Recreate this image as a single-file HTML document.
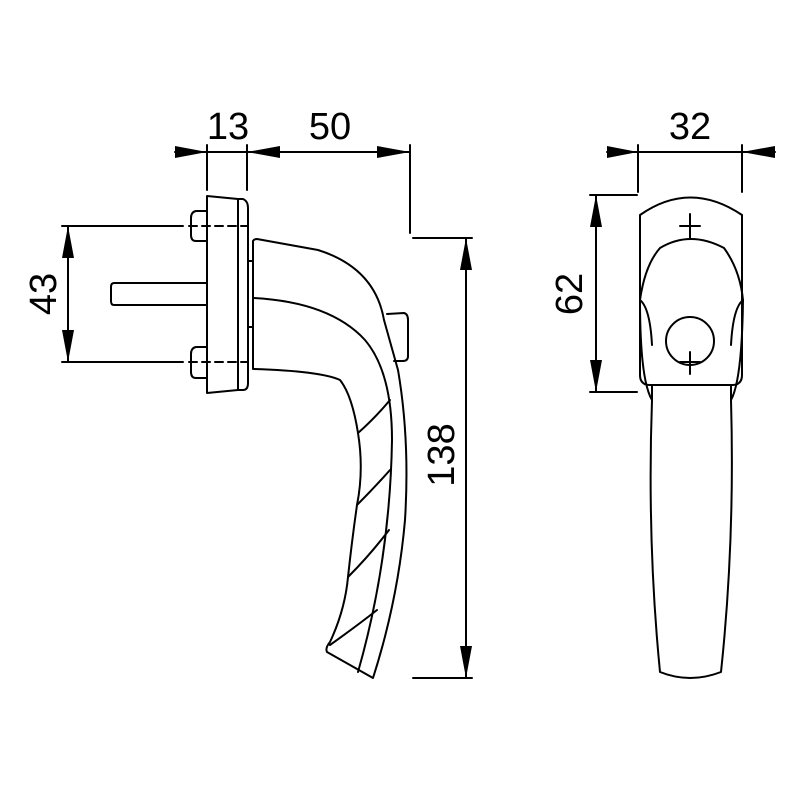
<!DOCTYPE html>
<html><head><style>body{margin:0;background:#fff}svg{display:block}</style></head><body>
<svg width="800" height="800" viewBox="0 0 800 800" xmlns="http://www.w3.org/2000/svg">
<g fill="none" stroke="#000" stroke-width="2" stroke-linejoin="round" stroke-linecap="round">
<line x1="175" y1="152" x2="410" y2="152"/>
<line x1="207" y1="145" x2="207" y2="190"/>
<line x1="247" y1="145" x2="247" y2="190"/>
<line x1="410" y1="145" x2="410" y2="233"/>
<line x1="607" y1="152" x2="775" y2="152"/>
<line x1="638" y1="145" x2="638" y2="192"/>
<line x1="742" y1="145" x2="742" y2="192"/>
<line x1="68" y1="226" x2="68" y2="362"/>
<line x1="62" y1="226" x2="183" y2="226"/>
<line x1="62" y1="362" x2="183" y2="362"/>
<line x1="466" y1="238" x2="466" y2="678"/>
<line x1="413" y1="238" x2="472" y2="238"/>
<line x1="413" y1="678" x2="472" y2="678"/>
<line x1="596" y1="195" x2="596" y2="392"/>
<line x1="590" y1="195" x2="637" y2="195"/>
<line x1="590" y1="392" x2="637" y2="392"/>
<path d="M207,196 L238,199 L238,390 L207,393 Z"/>
<path d="M238,199 L243,199 Q248,201 248,208 L248,383 Q248,390 243,390 L238,390"/>
<path d="M207,211 L196,211 Q191,212 191,218 L191,235 Q191,241 196,241 L207,241"/>
<path d="M207,347 L196,347 Q191,348 191,354 L191,372 Q191,378 196,378 L207,378"/>
<path d="M207,283 L114,283 Q111,283 111,287 L111,301 Q111,305 114,305 L207,305"/>
<line x1="248" y1="261" x2="253" y2="261"/><line x1="248" y1="327" x2="253" y2="327"/>
<path d="M189,226 L247,226 M189,362 L247,362" stroke-dasharray="8,5"/>
<path d="M253,369 L253,241 Q254,239 257,239 L318,250 Q375,268 384,320 L398,370 Q410,440 405,520 Q398,600 373,678 L327,652 Q325,648 330,642 Q345,610 348,577 Q352,540 357,505 Q364,470 358,433 Q352,395 340,380 Q320,371 253,369"/>
<path d="M253,298 Q330,302 365,340 Q392,372 392,440 Q390,560 358,672"/>
<path d="M387,314 L404,313 Q408,314 408,320 L408,356 Q408,361 403,361 L394,361"/>
<path d="M358,433 Q375,418 390,400 M357,505 Q375,487 390,470 M348,577 Q370,555 389,530 M330,645 Q358,625 377,610"/>
<path d="M640,215 Q690,180 742,215 L742,375 Q742,385 732,385 L650,385 Q640,385 640,375 Z"/>
<path d="M652,385 L652,400 Q647,540 660,672 Q690,684 721,672 Q735,540 731,400 L731,385"/>
<path d="M652,400 Q640,380 640,300 Q645,265 660,248 Q690,230 724,248 Q740,270 743,300 Q742,380 731,400"/>
<path d="M640,300 Q650,308 652,345 M743,300 Q733,308 731,345"/>
<circle cx="690" cy="341" r="24"/>
<path d="M680,226 L700,226 M690,214 L690,238 M680,362 L700,362 M690,352 L690,374"/>
</g>
<g fill="#000">
<polygon points="175,146 207,152 175,158"/>
<polygon points="280,146 247,152 280,158"/>
<polygon points="377,146 410,152 377,158"/>
<polygon points="607,146 638,152 607,158"/>
<polygon points="775,146 742,152 775,158"/>
<polygon points="62,258 68,226 74,258"/>
<polygon points="62,330 68,362 74,330"/>
<polygon points="460,270 466,238 472,270"/>
<polygon points="460,646 466,678 472,646"/>
<polygon points="590,227 596,195 602,227"/>
<polygon points="590,360 596,392 602,360"/>
</g>
<g font-family="Liberation Sans, sans-serif" font-size="38" text-anchor="middle">
<text x="228" y="139">13</text>
<text x="330" y="139">50</text>
<text x="690" y="139">32</text>
<text transform="translate(56,294) rotate(-90)">43</text>
<text transform="translate(454,455) rotate(-90)">138</text>
<text transform="translate(582,294) rotate(-90)">62</text>
</g>
</svg>
</body></html>
